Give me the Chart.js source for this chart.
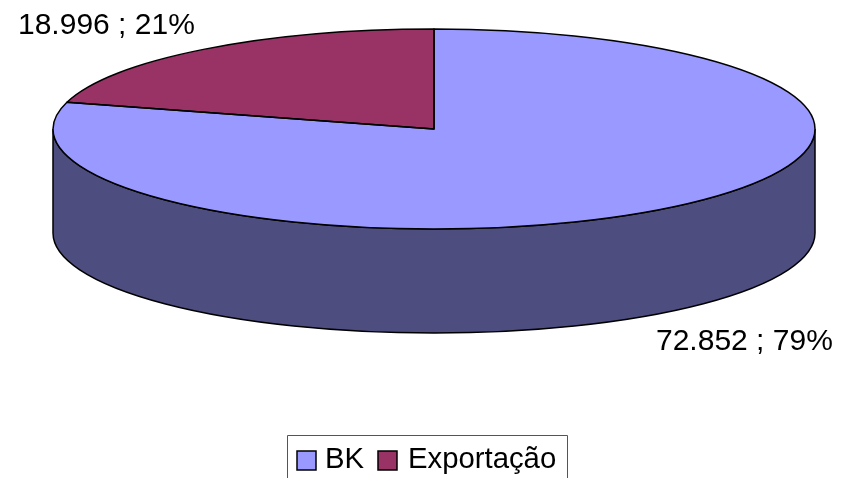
<!DOCTYPE html>
<html lang="pt-BR">
<head>
    <meta charset="UTF-8">
    <title>BK e Exportação</title>
    <script src="https://cdn.jsdelivr.net/npm/chart.js"></script>
    <style>
        html, body { margin: 0; padding: 0; background: #fff; overflow: hidden; }
        canvas { display: block; }
    </style>
</head>
<body>
    <canvas id="pieChart" width="868" height="478"></canvas>

    <script>
        const categories = ['BK', 'Exportação'];
        const values = [72852, 18996];
        const sliceColors = ['#9999FF', '#993366'];
        const sideColor = '#4D4D80';

        const fontFamily = '"Liberation Sans", Arial, sans-serif';
        const total = values.reduce((a, b) => a + b, 0);

        // pie geometry on the page: flattened ellipse plus wall depth
        const pieCenterX = 434, pieCenterY = 129, radiusX = 381, radiusY = 100, depth = 104;
        const labelSpots = [{ x: 656, y: 342 }, { x: 18, y: 26 }];

        // legend sits low, its frame runs off the bottom of the picture
        const legendFrame = { left: 287, right: 567, top: 435 };
        const legendSpots = [{ box: 297, text: 325 }, { box: 378, text: 408 }];

        function formatLabel(i) {
            const num = String(values[i]).replace(/\B(?=(\d{3})+$)/g, '.');
            return num + ' ; ' + Math.round(values[i] / total * 100) + '%';
        }

        function squash(ctx, arc) {
            ctx.translate(pieCenterX, pieCenterY);
            ctx.scale(1, radiusY / radiusX);
            ctx.translate(-arc.x, -arc.y);
        }

        const pie3d = {
            id: 'pie3d',
            beforeDatasetsDraw(chart) {
                const ctx = chart.ctx;
                const arc = chart.getDatasetMeta(0).data[0];
                const r = arc.outerRadius;

                // side wall, front half of the ellipse pushed down
                ctx.save();
                ctx.beginPath();
                ctx.save();
                ctx.translate(0, depth);
                squash(ctx, arc);
                ctx.arc(arc.x, arc.y, r, 0, Math.PI);
                ctx.restore();
                ctx.save();
                squash(ctx, arc);
                ctx.arc(arc.x, arc.y, r, Math.PI, 0, true);
                ctx.restore();
                ctx.closePath();
                ctx.fillStyle = sideColor;
                ctx.fill();
                ctx.lineWidth = 1.5;
                ctx.strokeStyle = '#000';
                ctx.stroke();
                ctx.restore();

                // flatten the slices the library draws next
                ctx.save();
                squash(ctx, arc);
            },
            afterDatasetsDraw(chart) {
                const ctx = chart.ctx;
                ctx.restore();

                // outlines go here so the line width is not squashed
                chart.getDatasetMeta(0).data.forEach(arc => {
                    ctx.save();
                    ctx.beginPath();
                    ctx.save();
                    squash(ctx, arc);
                    ctx.moveTo(arc.x, arc.y);
                    ctx.arc(arc.x, arc.y, arc.outerRadius, arc.startAngle, arc.endAngle);
                    ctx.closePath();
                    ctx.restore();
                    ctx.lineWidth = 1.5;
                    ctx.lineJoin = 'round';
                    ctx.strokeStyle = '#000';
                    ctx.stroke();
                    ctx.restore();
                });
            },
            afterDraw(chart) {
                const ctx = chart.ctx;
                ctx.save();
                ctx.font = '30px ' + fontFamily;
                ctx.fillStyle = '#000';
                ctx.textAlign = 'left';
                ctx.textBaseline = 'middle';
                labelSpots.forEach((spot, i) => ctx.fillText(formatLabel(i), spot.x, spot.y));

                // legend
                ctx.strokeStyle = '#555';
                ctx.lineWidth = 1;
                ctx.beginPath();
                ctx.moveTo(legendFrame.left + 0.5, 478);
                ctx.lineTo(legendFrame.left + 0.5, legendFrame.top + 0.5);
                ctx.lineTo(legendFrame.right + 0.5, legendFrame.top + 0.5);
                ctx.lineTo(legendFrame.right + 0.5, 478);
                ctx.stroke();

                ctx.font = '29.3px ' + fontFamily;
                ctx.textBaseline = 'alphabetic';
                ctx.strokeStyle = '#000';
                ctx.lineWidth = 1.5;
                categories.forEach((name, i) => {
                    ctx.fillStyle = sliceColors[i];
                    ctx.fillRect(legendSpots[i].box, 451, 19, 19);
                    ctx.strokeRect(legendSpots[i].box, 451, 19, 19);
                    ctx.fillStyle = '#000';
                    ctx.fillText(name, legendSpots[i].text, 468);
                });
                ctx.restore();
            }
        };

        new Chart(document.getElementById('pieChart').getContext('2d'), {
            type: 'pie',
            data: {
                labels: categories,
                datasets: [{
                    data: values,
                    backgroundColor: sliceColors,
                    borderWidth: 0,
                    clip: false
                }]
            },
            options: {
                responsive: false,
                animation: false,
                radius: radiusX,
                plugins: {
                    tooltip: { enabled: false },
                    legend: { display: false }
                }
            },
            plugins: [pie3d]
        });
    </script>
</body>
</html>
